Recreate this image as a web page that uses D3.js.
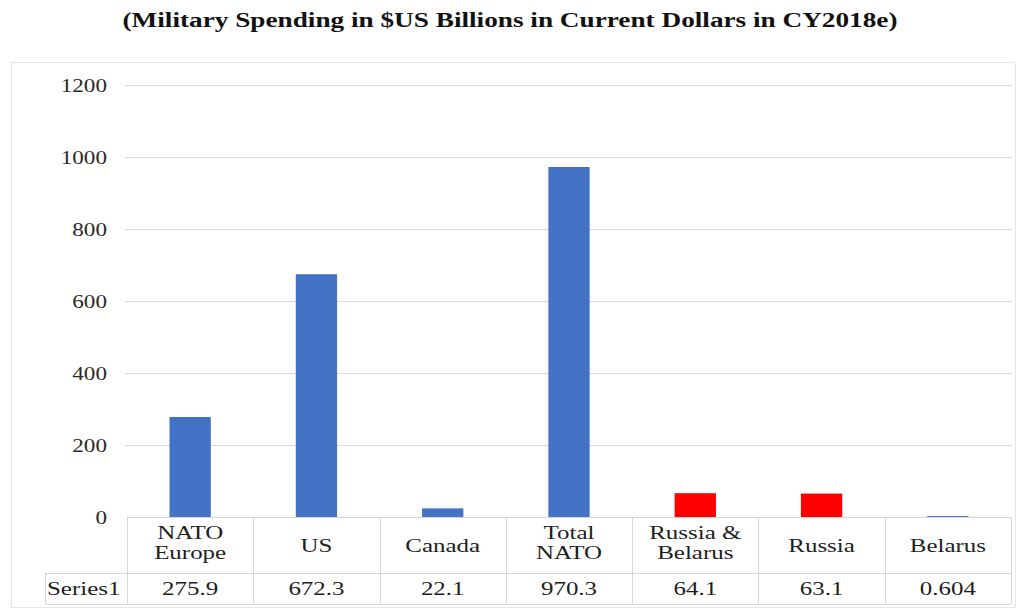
<!DOCTYPE html>
<html>
<head>
<meta charset="utf-8">
<script src="https://cdn.jsdelivr.net/npm/d3@7"></script>
<style>
  html, body { margin: 0; padding: 0; background: #fff; }
  svg { display: block; }
</style>
</head>
<body>
<svg id="chart" width="1018" height="612"></svg>
<script>
// ---- data ----
const subtitle = "(Military Spending in $US Billions in Current Dollars in CY2018e)";
const categories = ["NATO\nEurope", "US", "Canada", "Total\nNATO", "Russia &\nBelarus", "Russia", "Belarus"];
const values = [275.9, 672.3, 22.1, 970.3, 64.1, 63.1, 0.604];
const valueLabels = ["275.9", "672.3", "22.1", "970.3", "64.1", "63.1", "0.604"];
const barColors = ["#4472C4", "#4472C4", "#4472C4", "#4472C4", "#FF0000", "#FF0000", "#4472C4"];
const yTicks = [0, 200, 400, 600, 800, 1000, 1200];
const seriesName = "Series1";

// ---- layout ----
const svg = d3.select("#chart");
const plotLeft = 127, plotRight = 1011, plotTop = 85, plotBottom = 517;
const rowHeaderBottom = 573, rowValBottom = 604, seriesLeft = 45;
const sx = 1.22;   // horizontal stretch of axis text
const sxT = 1.28;  // horizontal stretch of table text
const font = "'Liberation Serif', 'Times New Roman', serif";

const x = d3.scaleBand().domain(categories).range([plotLeft, plotRight])
  .paddingInner(0.684).paddingOuter(0.342);
const y = d3.scaleLinear().domain([0, 1200]).range([plotBottom, plotTop]);

// outer chart frame
svg.append("rect").attr("x", 11.5).attr("y", 62.5).attr("width", 1004).attr("height", 545)
  .attr("fill", "none").attr("stroke", "#e6e6e6").attr("stroke-width", 1);

// subtitle
svg.append("text").attr("x", 510).attr("y", 27).attr("text-anchor", "middle")
  .attr("font-family", font).attr("font-weight", "bold").attr("font-size", 20)
  .attr("fill", "#111").attr("textLength", 775).attr("lengthAdjust", "spacingAndGlyphs")
  .text(subtitle);

// gridlines
svg.append("g").selectAll("line").data(yTicks.filter(d => d > 0)).join("line")
  .attr("x1", 125).attr("x2", 1012)
  .attr("y1", d => Math.round(y(d)) + 0.5).attr("y2", d => Math.round(y(d)) + 0.5)
  .attr("stroke", "#d9d9d9").attr("stroke-width", 1);

// y axis labels
svg.append("g").selectAll("text").data(yTicks).join("text")
  .attr("transform", d => `translate(107,${y(d) + 6.5}) scale(${sx},1)`)
  .attr("text-anchor", "end").attr("font-family", font).attr("font-size", 19)
  .attr("fill", "#2a2a2a").text(d => d);

// bars
svg.append("g").selectAll("rect").data(values).join("rect")
  .attr("x", (d, i) => x(categories[i]))
  .attr("width", x.bandwidth())
  .attr("y", d => y(d))
  .attr("height", d => y(0) - y(d))
  .attr("fill", (d, i) => barColors[i])
  .attr("stroke", (d, i) => barColors[i]).attr("stroke-width", 1.4);

// data table
const tbl = svg.append("g").attr("stroke", "#d6d6d6").attr("stroke-width", 1).attr("fill", "none");
const edges = categories.map(c => x(c) - x.step() * x.paddingInner() / 2);
edges.push(plotRight);
tbl.append("line").attr("x1", plotLeft).attr("x2", plotRight).attr("y1", plotBottom + 0.5).attr("y2", plotBottom + 0.5);
tbl.append("line").attr("x1", seriesLeft).attr("x2", plotRight).attr("y1", rowHeaderBottom + 0.5).attr("y2", rowHeaderBottom + 0.5);
tbl.append("line").attr("x1", seriesLeft).attr("x2", plotRight).attr("y1", rowValBottom + 0.5).attr("y2", rowValBottom + 0.5);
tbl.selectAll("line.v").data(edges).join("line").attr("class", "v")
  .attr("x1", d => Math.round(d) + 0.5).attr("x2", d => Math.round(d) + 0.5)
  .attr("y1", plotBottom).attr("y2", rowValBottom);
tbl.append("line").attr("x1", seriesLeft + 0.5).attr("x2", seriesLeft + 0.5)
  .attr("y1", rowHeaderBottom).attr("y2", rowValBottom);

// header text
const hdr = svg.append("g").attr("font-family", font).attr("font-size", 19.5).attr("fill", "#1e1e1e");
categories.forEach((c, i) => {
  const cx = x(c) + x.bandwidth() / 2;
  const lines = c.split("\n");
  const baseY = lines.length === 1 ? 552 : 539;
  lines.forEach((ln, j) => {
    hdr.append("text").attr("transform", `translate(${cx},${baseY + j * 20}) scale(${sxT},1)`)
      .attr("text-anchor", "middle").text(ln);
  });
});

// values row
svg.append("g").selectAll("text").data(valueLabels).join("text")
  .attr("transform", (d, i) => `translate(${x(categories[i]) + x.bandwidth() / 2},595) scale(${sxT},1)`)
  .attr("text-anchor", "middle").attr("font-family", font).attr("font-size", 19.5).attr("fill", "#1e1e1e")
  .text(d => d);

svg.append("text").attr("transform", `translate(47,595) scale(${sxT},1)`)
  .attr("font-family", font).attr("font-size", 19.5).attr("fill", "#1e1e1e").text(seriesName);
</script>
</body>
</html>
